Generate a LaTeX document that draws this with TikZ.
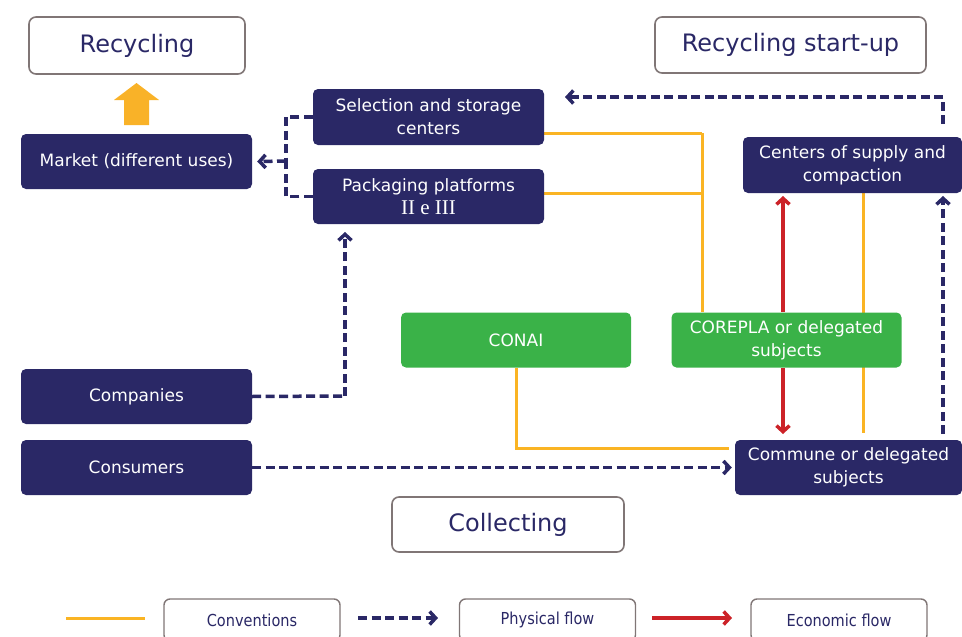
\documentclass[tikz,border=0pt]{standalone}
\usepackage{fontspec}
\setmainfont{DejaVu Sans}
\newfontfamily\serifii{Liberation Serif}
\newfontfamily\condfont[FakeStretch=0.88]{DejaVu Sans}
\usetikzlibrary{arrows.meta,backgrounds,calc}
\definecolor{navy}{RGB}{42,40,102}
\definecolor{mygreen}{RGB}{58,178,72}
\definecolor{myyellow}{RGB}{250,180,35}
\definecolor{myorange}{RGB}{249,178,40}
\definecolor{myred}{RGB}{204,34,40}
\definecolor{outl}{RGB}{128,118,118}
\tikzset{
  navybox/.style={fill=navy, text=white, rounded corners=5pt, minimum width=231pt,
    minimum height=55pt, align=center, inner sep=0pt, font=\fontsize{17}{23}\selectfont},
  greenbox/.style={navybox, fill=mygreen},
  headbox/.style={draw=outl, line width=1.6pt, fill=white, rounded corners=7pt, text=navy,
    inner sep=0pt, font=\fontsize{24}{28}\selectfont},
  legbox/.style={draw=outl, line width=1.4pt, fill=white, rounded corners=6pt, text=navy,
    inner sep=0pt, minimum width=176pt, minimum height=42pt, font=\condfont\fontsize{16.5}{19}\selectfont},
  conv/.style={draw=myyellow, line width=3pt},
  phys/.style={draw=navy, line width=3.5pt, dash pattern=on 9pt off 4.5pt},
  physarr/.style={phys, -{Straight Barb[length=6pt,width=13pt,line width=3.5pt]}},
  econ/.style={draw=myred, line width=3.5pt, -{Straight Barb[length=6pt,width=13pt,line width=3.5pt]}}
}
\begin{document}
\begin{tikzpicture}[x=1pt,y=-1pt]
\useasboundingbox (0,0) rectangle (962,637);
\clip (0,0) rectangle (962,637);
% heading boxes
\node[headbox, minimum width=216pt, minimum height=57pt] (recyc) at (137,45.5) {Recycling};
\node[headbox, minimum width=271pt, minimum height=56pt] (startup) at (790.5,45) {Recycling start-up};
\node[headbox, minimum width=232pt, minimum height=55pt] (collect) at (508,524.5) {Collecting};
% navy boxes
\node[navybox] (market) at (136.5,161.5) {Market (different uses)};
\node[navybox, minimum height=56pt] (sel) at (428.5,117) {Selection and storage\\centers};
\node[navybox] (pack) at (428.5,196.5) {Packaging platforms\\{\serifii\fontsize{21}{23}\selectfont II e III}};
\node[navybox, minimum width=219pt, minimum height=56pt] (centers) at (852.5,165) {Centers of supply and\\compaction};
\node[navybox] (comp) at (136.5,396.5) {Companies};
\node[navybox] (cons) at (136.5,467.5) {Consumers};
\node[navybox, minimum width=227pt] (commune) at (848.5,467.5) {Commune or delegated\\subjects};
% green boxes
\node[greenbox, minimum width=230pt] (conai) at (516,340) {CONAI};
\node[greenbox, minimum width=230pt] (corepla) at (786.5,340) {COREPLA or delegated\\subjects};
% orange block arrow
\fill[myorange] (124,125) -- (124,100) -- (114,100) -- (136.5,83) -- (159,100) -- (149,100) -- (149,125) -- cycle;
% connectors behind boxes
\begin{pgfonlayer}{background}
  % conventions
  \coordinate (yj) at (702,133);
  \draw[conv] (sel.east |- yj) -- (yj);
  \draw[conv] (pack.east |- 0,193) -- (702,193);
  \draw[conv] (yj) -- (702,312);
  \draw[conv] (conai.south) -- (conai.south |- 0,448) -- (729,448);
  \draw[conv] (863,193) -- (863,433);
  % economic flow
  \draw[econ] (783,312) -- (783,196);
  \draw[econ] (783,368) -- (783,434);
  % physical flows
  \coordinate (jl) at (286,161);
  \draw[phys] (sel.west) -| (jl);
  \draw[phys] (pack.west) -| (jl);
  \draw[physarr] (jl) -- ([xshift=5pt]market.east);
  \coordinate (rt) at (943,97);
  \draw[phys] (943,124) -- (rt);
  \draw[physarr] (rt) -- (565,97);
  \draw[physarr] (943,434) -- (943,196);
  \coordinate (cj) at (345,396);
  \draw[phys] (comp.east) -- (cj);
  \draw[physarr] (cj) -- (345,232);
  \draw[physarr] (cons.east) -- ([xshift=-3pt]commune.west);
\end{pgfonlayer}
% legend
\coordinate (l1a) at (66,618); \coordinate (l1b) at (145,618);
\draw[conv] (l1a) -- (l1b);
\node[legbox] (lconv) at (252,620) {Conventions};
\coordinate (l2a) at (358,618); \coordinate (l2b) at (438,618);
\draw[physarr] (l2a) -- (l2b);
\node[legbox] (lphys) at (547.5,620) {Physical flow};
\coordinate (l3a) at (652,618); \coordinate (l3b) at (732,618);
\draw[econ] (l3a) -- (l3b);
\node[legbox] (lecon) at (839,620) {Economic flow};
\end{tikzpicture}
\end{document}
